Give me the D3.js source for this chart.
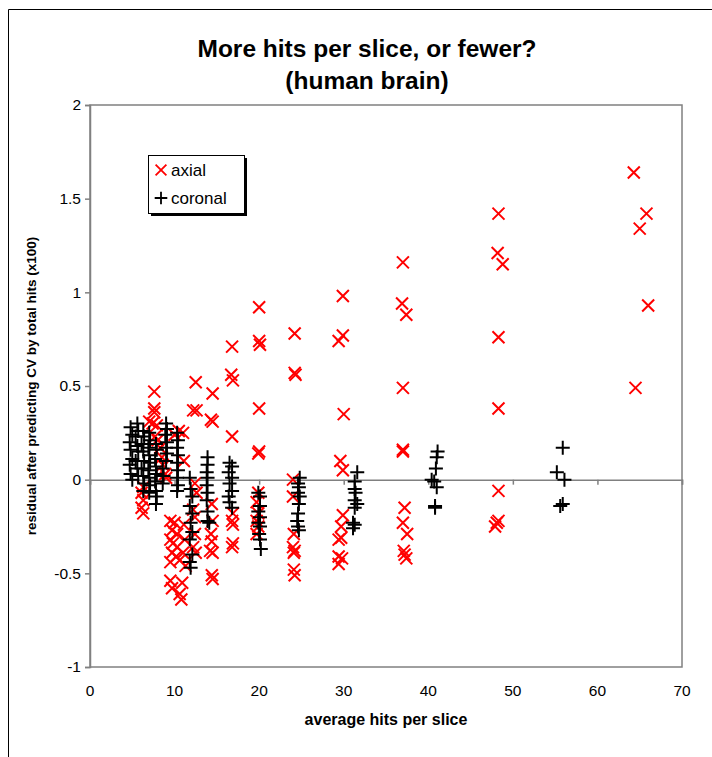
<!DOCTYPE html>
<html><head><meta charset="utf-8">
<script src="https://cdn.jsdelivr.net/npm/d3@7"></script>
<style>body{margin:0;background:#fff}svg{display:block}text{font-family:"Liberation Sans",Arial,sans-serif}</style>
</head><body><svg id="c" width="712" height="757"></svg>
<script>
const titleLines = ["More hits per slice, or fewer?", "(human brain)"];
const xTicks = [0,10,20,30,40,50,60,70];
const yTicks = [-1,-0.5,0,0.5,1,1.5,2];
const seriesNames = ["axial","coronal"];

// axial series [average hits per slice, residual]
const axial = [
 [64.3,1.64],[65.8,1.42],[65.0,1.34],[66.0,0.93],[64.5,0.49],
 [48.3,1.42],[48.2,1.21],[48.8,1.15],[48.3,0.76],[48.3,0.38],[48.3,-0.06],[48.3,-0.22],[47.9,-0.25],[48.1,-0.23],
 [37.0,1.16],[36.9,0.94],[37.4,0.88],[37.0,0.49],[37.0,0.16],[37.0,0.15],[37.2,-0.15],[37.0,-0.23],[37.5,-0.29],[37.1,-0.38],[37.2,-0.40],[37.4,-0.42],
 [29.9,0.98],[29.9,0.77],[29.4,0.74],[30.0,0.35],[29.6,0.10],[29.9,0.05],[29.9,-0.19],[29.7,-0.25],[29.7,-0.31],[29.4,-0.32],[29.4,-0.41],[29.4,-0.45],[29.8,-0.42],
 [24.2,0.78],[24.2,0.57],[24.3,0.56],[24.0,0.00],[24.0,-0.09],[24.1,-0.29],[24.0,-0.36],[24.2,-0.38],[24.1,-0.39],[24.1,-0.48],[24.2,-0.51],
 [20.0,0.92],[20.0,0.74],[20.1,0.72],[20.0,0.38],[19.9,0.14],[20.0,0.15],[19.9,-0.07],[19.7,-0.12],[19.9,-0.18],[19.7,-0.22],[19.9,-0.25],[19.7,-0.29],
 [16.8,0.71],[16.7,0.56],[16.9,0.53],[16.8,0.23],[16.9,-0.18],[16.8,-0.22],[16.9,-0.24],[16.9,-0.34],[16.8,-0.36],
 [14.5,0.46],[14.3,0.32],[14.5,0.31],[14.4,-0.13],[14.5,-0.22],[14.3,-0.29],[14.4,-0.33],[14.2,-0.38],[14.5,-0.39],[14.4,-0.51],[14.5,-0.53],
 [12.5,0.52],[12.2,0.37],[12.6,0.37],[12.4,-0.02],[12.6,-0.07],[12.2,-0.16],[12.4,-0.20],[12.4,-0.29],[12.2,-0.36],[12.5,-0.39],
 [9.5,-0.22],[10.0,-0.23],[9.7,-0.27],[10.3,-0.29],[9.5,-0.32],[9.8,-0.34],[10.3,-0.36],[9.7,-0.39],[10.2,-0.41],[10.6,-0.43],[9.5,-0.44],[11.0,-0.39],
 [9.5,-0.54],[9.7,-0.58],[10.9,-0.55],[10.6,-0.61],[10.8,-0.64],[11.2,-0.32],[11.3,-0.46],[11.1,-0.24],
 [7.6,0.47],[7.6,0.38],[7.6,0.36],[7.0,0.31],[7.4,0.30],[7.9,0.29],[11.0,0.25],[7.7,0.23],[8.0,0.21],[8.3,0.17],[8.5,0.12],[8.6,0.08],[8.9,0.03],[9.0,0.01],[11.1,0.10],
 [6.3,-0.04],[6.1,-0.07],[6.3,-0.11],[6.1,-0.15],[6.3,-0.18],[10.5,0.26],[10.0,0.24]
];

// coronal series [average hits per slice, residual]
const coronal = [
 [55.9,0.17],[55.2,0.04],[56.1,0.00],[55.6,-0.14],[55.9,-0.13],
 [41.1,0.15],[41.0,0.12],[40.9,0.06],[40.4,0.00],[40.7,-0.01],[41.0,-0.04],[40.8,-0.14],[40.8,-0.15],
 [31.6,0.04],[31.3,-0.01],[31.3,-0.05],[31.4,-0.07],[31.3,-0.11],[31.6,-0.13],[31.3,-0.15],[31.1,-0.23],[31.3,-0.24],[31.1,-0.26],
 [24.8,0.01],[24.6,-0.02],[24.7,-0.04],[24.6,-0.07],[24.8,-0.09],[24.7,-0.13],[24.6,-0.18],[24.5,-0.22],[24.6,-0.25],[24.7,-0.27],
 [19.9,-0.07],[20.1,-0.09],[20.1,-0.14],[19.9,-0.17],[20.1,-0.20],[19.9,-0.23],[20.1,-0.25],[20.0,-0.29],[20.1,-0.32],[20.2,-0.37],
 [16.5,0.09],[16.8,0.07],[16.4,0.04],[16.8,0.01],[16.5,-0.02],[16.8,-0.06],[16.4,-0.09],[16.5,-0.12],[16.8,-0.15],
 [13.9,0.12],[13.9,0.08],[13.8,0.04],[13.9,0.01],[13.8,-0.03],[13.9,-0.07],[13.8,-0.11],[13.9,-0.17],[13.9,-0.22],[14.1,-0.23],
 [11.8,0.01],[11.9,-0.05],[12.1,-0.09],[11.8,-0.14],[12.1,-0.18],[11.9,-0.23],[12.1,-0.28],[11.8,-0.32],[12.1,-0.40],[11.8,-0.44],[11.9,-0.47],
 [10.3,0.25],[10.4,0.21],[10.3,0.17],[10.4,0.13],[10.3,0.09],[10.4,0.05],[10.3,0.01],[10.4,-0.03],[10.3,-0.06],
 [9.0,0.30],[9.1,0.27],[8.9,0.24],[9.1,0.20],[9.0,0.17],[9.1,0.14],[9.0,0.10],[8.6,0.06],[8.7,0.02],[8.6,-0.02],
 [7.8,0.19],[7.9,0.16],[7.7,0.11],[7.8,0.07],[7.9,0.03],[7.7,-0.01],[7.8,-0.06],[7.9,-0.09],[7.8,-0.13],
 [7.0,0.25],[7.1,0.21],[6.9,0.17],[7.0,0.13],[7.1,0.09],[6.9,0.05],[7.0,0.01],[7.1,-0.03],[7.0,-0.07],
 [6.3,0.26],[6.4,0.23],[6.1,0.19],[6.3,0.15],[6.4,0.10],[6.1,0.06],[6.3,0.02],[6.4,-0.02],[6.3,-0.06],
 [5.6,0.30],[5.7,0.26],[5.4,0.23],[5.6,0.18],[5.7,0.15],[5.4,0.10],[5.6,0.06],[5.7,0.02],
 [4.8,0.28],[5.0,0.24],[4.7,0.20],[4.8,0.16],[5.0,0.11],[4.7,0.08],[4.8,0.03],[5.0,0.00]
];

const svg = d3.select("#c");
const L=90, R=682, T=105, B=667;
const x = d3.scaleLinear().domain([0,70]).range([L,R]);
const y = d3.scaleLinear().domain([-1,2]).range([B,T]);

// outer frame
svg.append("path").attr("d","M8.5,757 V9.5 H712").attr("fill","none").attr("stroke","#000").attr("stroke-width",1);

// title
svg.selectAll(".title").data(titleLines).join("text")
  .attr("x",367).attr("y",(d,i)=>57+i*32).attr("text-anchor","middle")
  .attr("font-size",24.5).attr("font-weight","bold").text(d=>d);

// plot area border
svg.append("rect").attr("x",L).attr("y",T).attr("width",R-L).attr("height",B-T)
  .attr("fill","none").attr("stroke","#808080").attr("stroke-width",1.5);

// y axis
const yAxis = svg.append("g").attr("transform",`translate(${L},0)`)
  .call(d3.axisLeft(y).tickValues(yTicks).tickSize(5).tickPadding(4).tickFormat(d=>String(d)));
yAxis.select(".domain").attr("stroke","#808080").attr("stroke-width",1.5);
yAxis.selectAll(".tick line").attr("stroke","#808080").attr("stroke-width",1.5);
yAxis.selectAll("text").attr("font-size",15.5).attr("fill","#000").attr("font-family","Liberation Sans, Arial, sans-serif");

// x axis line at y=0
const xAxis = svg.append("g").attr("transform",`translate(0,${y(0)})`)
  .call(d3.axisBottom(x).tickValues(xTicks).tickSize(5).tickFormat(""));
xAxis.select(".domain").attr("stroke","#808080").attr("stroke-width",1.5);
xAxis.selectAll(".tick line").attr("stroke","#808080").attr("stroke-width",1.5);

// x tick labels (low)
svg.selectAll(".xl").data(xTicks).join("text")
  .attr("x",d=>x(d)).attr("y",B+29).attr("text-anchor","middle").attr("font-size",15.5).text(d=>String(d));

// axis titles
svg.append("text").attr("x",386).attr("y",725).attr("text-anchor","middle")
  .attr("font-size",16).attr("font-weight","bold").text("average hits per slice");
svg.append("text").attr("transform",`translate(36,${(T+B)/2}) rotate(-90)`).attr("text-anchor","middle")
  .attr("font-size",13.5).attr("font-weight","bold").text("residual after predicting CV by total hits (x100)");

// markers
const xs = 6, ps = 7;
const xPath = `M${-xs},${-xs}L${xs},${xs}M${-xs},${xs}L${xs},${-xs}`;
const pPath = `M${-ps},0L${ps},0M0,${-ps}L0,${ps}`;
svg.append("g").selectAll("path").data(axial).join("path")
  .attr("d",xPath).attr("transform",d=>`translate(${x(d[0])},${y(d[1])})`)
  .attr("stroke","#ff0000").attr("stroke-width",2).attr("fill","none");
svg.append("g").selectAll("path").data(coronal).join("path")
  .attr("d",pPath).attr("transform",d=>`translate(${x(d[0])},${y(d[1])})`)
  .attr("stroke","#000").attr("stroke-width",2).attr("fill","none");

// legend
const lg = svg.append("g");
lg.append("rect").attr("x",151).attr("y",158).attr("width",96).attr("height",58).attr("fill","#000");
lg.append("rect").attr("x",148.5).attr("y",155.5).attr("width",96).attr("height",58).attr("fill","#fff").attr("stroke","#000");
const items = [{n:seriesNames[0],p:xPath,c:"#ff0000"},{n:seriesNames[1],p:pPath,c:"#000"}];
items.forEach((it,i)=>{
  lg.append("path").attr("d",it.p).attr("transform",`translate(${161},${170+i*28}) scale(0.9)`)
    .attr("stroke",it.c).attr("stroke-width",2).attr("fill","none");
  lg.append("text").attr("x",171).attr("y",176+i*28).attr("font-size",17).text(it.n);
});
</script></body></html>
